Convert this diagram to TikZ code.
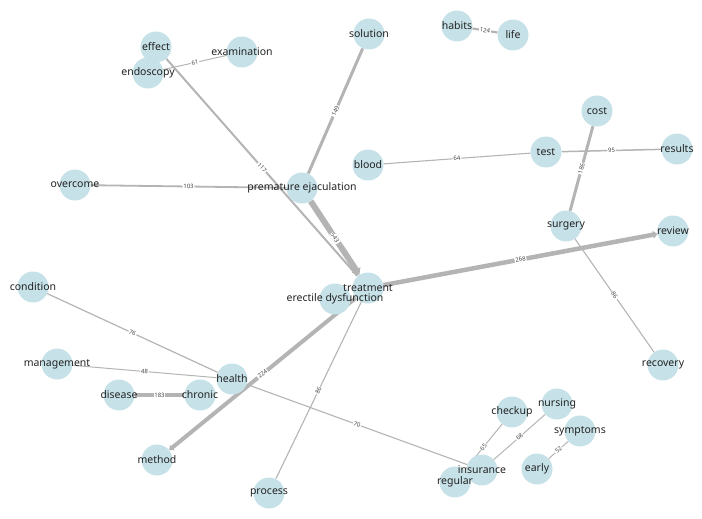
\documentclass[tikz,border=0pt]{standalone}
\usepackage{fontspec}
\setmainfont{Noto Sans}
\usetikzlibrary{arrows.meta}
\pgfdeclarelayer{bg}
\pgfsetlayers{bg,main}
\definecolor{nodefill}{RGB}{198,226,232}
\definecolor{edgegray}{RGB}{180,180,180}
\definecolor{txt}{RGB}{34,34,34}
\definecolor{labgray}{RGB}{70,70,70}
\tikzset{
  vtx/.style={circle, fill=nodefill, minimum size=31pt, inner sep=0pt},
  vlab/.style={text=txt, font=\fontsize{10.5}{12}\selectfont, inner sep=0pt},
  lnk/.style={draw=edgegray, line width=#1},
  dlnk/.style={draw=edgegray, line width=#1, -{Triangle[length=0pt 1.0, width=0pt 1.7]}},
  wlab/.style={font=\fontsize{6}{7}\selectfont, text=labgray, fill=white, inner sep=0.8pt, sloped, pos=0.5}
}
\begin{document}
\begin{tikzpicture}[x=1pt, y=-1pt]
\useasboundingbox (0,0) rectangle (702,519);
% circles
\node[vtx] (effect) at (156,47) {};
\node[vtx] (endoscopy) at (148,73) {};
\node[vtx] (examination) at (242,52) {};
\node[vtx] (solution) at (369,34) {};
\node[vtx] (habits) at (457,26) {};
\node[vtx] (life) at (513,35) {};
\node[vtx] (cost) at (597,111) {};
\node[vtx] (blood) at (368,165) {};
\node[vtx] (test) at (546,152) {};
\node[vtx] (results) at (677,149) {};
\node[vtx] (overcome) at (75,185) {};
\node[vtx] (premature) at (302,188) {};
\node[vtx] (surgery) at (566,226) {};
\node[vtx] (review) at (673,231) {};
\node[vtx] (treatment) at (368,288) {};
\node[vtx] (ed) at (335,299) {};
\node[vtx] (condition) at (33,287) {};
\node[vtx] (management) at (57,364) {};
\node[vtx] (health) at (232,379) {};
\node[vtx] (disease) at (119,395) {};
\node[vtx] (chronic) at (200,395) {};
\node[vtx] (method) at (157,460) {};
\node[vtx] (process) at (269,493) {};
\node[vtx] (recovery) at (663,365) {};
\node[vtx] (checkup) at (512,412) {};
\node[vtx] (nursing) at (557,404) {};
\node[vtx] (symptoms) at (580,431) {};
\node[vtx] (early) at (537,469) {};
\node[vtx] (insurance) at (482,470) {};
\node[vtx] (regular) at (455,482) {};
% texts
\node[vlab] (t-effect) at (effect.center) {effect};
\node[vlab] (t-endoscopy) at (endoscopy.center) {endoscopy};
\node[vlab] (t-examination) at (examination.center) {examination};
\node[vlab] (t-solution) at (solution.center) {solution};
\node[vlab] (t-habits) at (habits.center) {habits};
\node[vlab] (t-life) at (life.center) {life};
\node[vlab] (t-cost) at (cost.center) {cost};
\node[vlab] (t-blood) at (blood.center) {blood};
\node[vlab] (t-test) at (test.center) {test};
\node[vlab] (t-results) at (results.center) {results};
\node[vlab] (t-overcome) at (overcome.center) {overcome};
\node[vlab] (t-premature) at (premature.center) {premature ejaculation};
\node[vlab] (t-surgery) at (surgery.center) {surgery};
\node[vlab] (t-review) at (review.center) {review};
\node[vlab] (t-treatment) at (treatment.center) {treatment};
\node[vlab] (t-ed) at (ed.center) {erectile dysfunction};
\node[vlab] (t-condition) at (condition.center) {condition};
\node[vlab] (t-management) at (management.center) {management};
\node[vlab] (t-health) at (health.center) {health};
\node[vlab] (t-disease) at (disease.center) {disease};
\node[vlab] (t-chronic) at (chronic.center) {chronic};
\node[vlab] (t-method) at (method.center) {method};
\node[vlab] (t-process) at (process.center) {process};
\node[vlab] (t-recovery) at (recovery.center) {recovery};
\node[vlab] (t-checkup) at (checkup.center) {checkup};
\node[vlab] (t-nursing) at (nursing.center) {nursing};
\node[vlab] (t-symptoms) at (symptoms.center) {symptoms};
\node[vlab] (t-early) at (early.center) {early};
\node[vlab] (t-insurance) at (insurance.center) {insurance};
\node[vlab] (t-regular) at (regular.center) {regular};
% edges
\begin{pgfonlayer}{bg}
\draw[dlnk=6pt] (premature) -- node[wlab] (l543) {543} (treatment);
\draw[dlnk=2pt] (effect) -- node[wlab] (l117) {117} (treatment);
\draw[dlnk=4.5pt] (treatment) -- node[wlab] (l268) {268} (review);
\draw[dlnk=4pt] (treatment) -- node[wlab] (l224) {224} (method);
\draw[lnk=1.1pt] (treatment) -- node[wlab] (l86a) {86} (process);
\draw[lnk=1pt] (endoscopy) -- node[wlab] (l61) {61} (examination);
\draw[lnk=3pt] (solution) -- node[wlab] (l149) {149} (premature);
\draw[lnk=1.8pt] (overcome) -- node[wlab] (l103) {103} (premature);
\draw[lnk=2.2pt] (habits) -- node[wlab] (l124) {124} (life);
\draw[lnk=1.1pt] (blood) -- node[wlab] (l64) {64} (test);
\draw[lnk=1.5pt] (test) -- node[wlab] (l95) {95} (results);
\draw[lnk=3pt] (cost) -- node[wlab] (l186) {186} (surgery);
\draw[lnk=1.1pt] (surgery) -- node[wlab] (l86b) {86} (recovery);
\draw[lnk=1.2pt] (condition) -- node[wlab] (l76) {76} (health);
\draw[lnk=1pt] (management) -- node[wlab] (l48) {48} (health);
\draw[lnk=3.5pt] (disease) -- node[wlab] (l183) {183} (chronic);
\draw[lnk=1.1pt] (health) -- node[wlab] (l70) {70} (insurance);
\draw[lnk=1pt] (checkup) -- node[wlab] (l65) {65} (regular);
\draw[lnk=1pt] (nursing) -- node[wlab] (l68) {68} (insurance);
\draw[lnk=1pt] (symptoms) -- node[wlab] (l52) {52} (early);
\end{pgfonlayer}
\end{tikzpicture}
\end{document}
